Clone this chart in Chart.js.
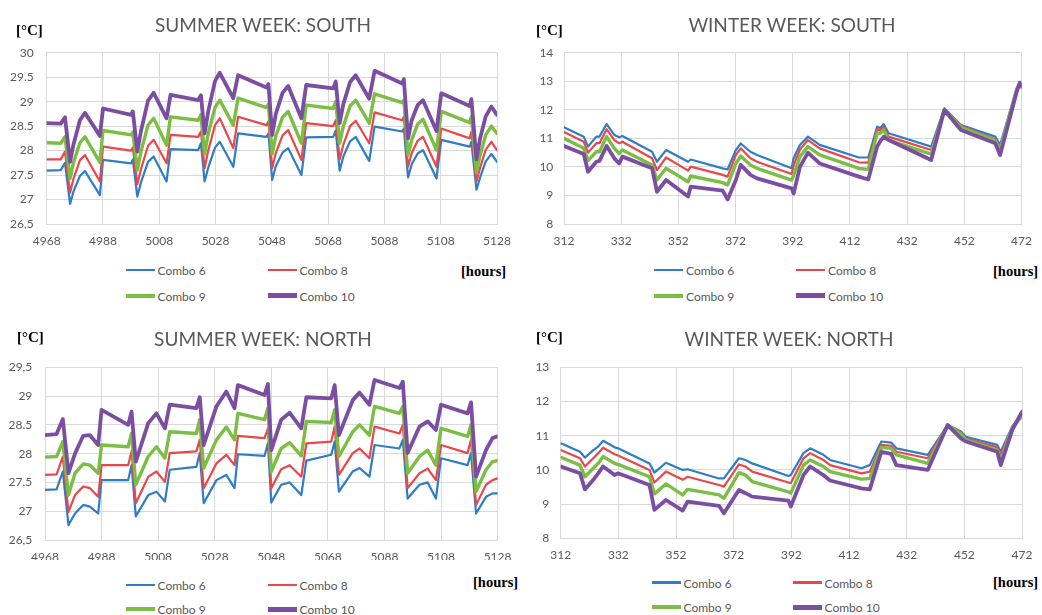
<!DOCTYPE html>
<html><head><meta charset="utf-8">
<script src="https://cdn.jsdelivr.net/npm/chart.js@4.4.1/dist/chart.umd.min.js"></script>
<style>
html,body{margin:0;padding:0;background:#fff;}
body{width:1042px;height:615px;position:relative;overflow:hidden;font-family:Lato,'Open Sans',sans-serif;}
.box{position:absolute;}
.box canvas{display:block;}
.title{position:absolute;transform:translate(-50%,-50%);font-size:19px;color:#595959;white-space:nowrap;}
.unit{position:absolute;transform:translateY(-50%);font-family:'Liberation Serif','DejaVu Serif',serif;font-weight:bold;font-size:15px;color:#000;white-space:nowrap;}
.legtxt{position:absolute;transform:translateY(-50%);font-size:12px;color:#595959;white-space:nowrap;}
.sw{position:absolute;width:29px;}
</style></head>
<body>
<div class="box" style="left:0;top:0"><canvas id="ss" width="521" height="255"></canvas></div>
<div class="box" style="left:521px;top:0"><canvas id="ws" width="521" height="255"></canvas></div>
<div class="box" style="left:0;top:310px"><canvas id="sn" width="521" height="250"></canvas></div>
<div class="box" style="left:521px;top:310px"><canvas id="wn" width="521" height="250"></canvas></div>
<div id="overlay"></div>
<script>
// ---------- DATA ----------
const seriesNames = ['Combo 6', 'Combo 8', 'Combo 9', 'Combo 10'];

// Summer week: south
const ssHours = [4968,4973,4974.5,4976.3,4977.5,4979.8,4981.6,4986.9,4988,4998,4998.6,5000.2,5001.5,5004,5006,5010.6,5012,5021.8,5022.8,5024.1,5025.4,5027.8,5029.5,5034.3,5036,5046.1,5046.8,5048.1,5049.4,5051.8,5053.8,5058.5,5060.2,5069.8,5070.7,5072.1,5073.4,5075.8,5077.8,5082.6,5084.5,5094.3,5094.9,5096.4,5097.7,5099.8,5101.7,5106.5,5108.2,5118.3,5118.9,5120.7,5122,5124,5126,5128];
const ssCombo6  = [27.59,27.60,27.75,26.91,27.16,27.48,27.58,27.09,27.81,27.74,27.82,27.06,27.35,27.77,27.88,27.37,28.03,28.01,28.15,27.37,27.65,28.06,28.18,27.67,28.35,28.28,28.35,27.40,27.68,27.96,28.05,27.50,28.27,28.28,28.41,27.59,27.88,28.19,28.28,27.79,28.49,28.39,28.45,27.45,27.72,27.94,28.01,27.43,28.22,28.08,28.18,27.20,27.45,27.78,27.93,27.77];
const ssCombo8  = [27.82,27.82,27.98,27.14,27.42,27.80,27.91,27.37,28.08,28.00,28.06,27.31,27.62,28.10,28.22,27.74,28.32,28.28,28.39,27.64,28.00,28.52,28.66,28.05,28.69,28.52,28.60,27.64,27.95,28.31,28.42,27.81,28.56,28.50,28.62,27.82,28.12,28.50,28.61,28.15,28.78,28.62,28.69,27.67,27.95,28.20,28.28,27.67,28.45,28.25,28.39,27.37,27.65,28.02,28.18,28.01];
const ssCombo9  = [28.16,28.15,28.28,27.43,27.75,28.16,28.28,27.76,28.41,28.32,28.38,27.60,27.98,28.52,28.66,28.11,28.69,28.62,28.73,27.93,28.35,28.88,29.03,28.52,29.07,28.88,28.95,27.93,28.30,28.68,28.80,28.15,28.93,28.86,29.00,28.15,28.50,28.91,29.03,28.56,29.16,28.98,29.03,27.91,28.22,28.54,28.64,28.01,28.80,28.57,28.69,27.57,27.90,28.32,28.50,28.35];
const ssCombo10 = [28.56,28.55,28.68,27.77,28.12,28.62,28.77,28.30,28.86,28.73,28.80,27.98,28.40,29.02,29.18,28.66,29.14,29.03,29.13,28.35,28.80,29.42,29.59,29.07,29.54,29.29,29.36,28.32,28.75,29.18,29.32,28.66,29.34,29.27,29.41,28.56,28.95,29.40,29.54,29.06,29.63,29.37,29.46,28.25,28.62,28.93,29.03,28.40,29.17,28.91,29.05,27.82,28.25,28.70,28.90,28.73];

// Summer week: north
const snHours = [4968,4972.1,4974.3,4976.3,4978.6,4981.5,4983.9,4986.8,4988,4997.4,4998.6,5000.1,5004.5,5007.4,5010.4,5012.1,5021.5,5022.7,5024.1,5028.6,5032.1,5035,5036.2,5045.6,5046.8,5048,5051.5,5054.5,5058.6,5060.4,5069.2,5070.4,5071.9,5076.8,5079.2,5082.7,5084.5,5093.3,5094.5,5096.2,5100.4,5103.3,5106.2,5108,5117.4,5118.6,5120.4,5123.9,5126.2,5128];
const snCombo6  = [27.37,27.38,27.69,26.76,26.96,27.11,27.08,26.96,27.54,27.54,27.80,26.91,27.28,27.34,27.17,27.72,27.77,28.01,27.14,27.54,27.63,27.40,27.99,27.96,28.18,27.15,27.46,27.50,27.28,27.88,27.98,28.21,27.34,27.69,27.75,27.60,28.15,28.09,28.24,27.22,27.46,27.50,27.22,27.92,27.80,28.01,26.96,27.25,27.31,27.31];
const snCombo8  = [27.63,27.64,27.95,26.99,27.28,27.43,27.40,27.25,27.80,27.80,28.04,27.14,27.60,27.69,27.51,28.01,28.04,28.24,27.40,27.83,27.98,27.80,28.31,28.27,28.44,27.40,27.73,27.80,27.60,28.18,28.21,28.47,27.63,28.01,28.09,27.92,28.47,28.35,28.50,27.40,27.66,27.74,27.54,28.15,28.01,28.24,27.11,27.46,27.54,27.57];
const snCombo9  = [27.94,27.95,28.21,27.28,27.66,27.82,27.80,27.66,28.15,28.12,28.35,27.46,27.95,28.12,27.92,28.38,28.35,28.59,27.75,28.24,28.46,28.24,28.70,28.59,28.79,27.69,28.09,28.19,27.96,28.56,28.54,28.76,27.95,28.38,28.50,28.32,28.82,28.70,28.82,27.66,27.95,28.06,27.80,28.44,28.30,28.50,27.34,27.72,27.86,27.88];
const snCombo10 = [28.32,28.34,28.60,27.66,28.00,28.31,28.32,28.15,28.76,28.50,28.73,27.86,28.53,28.70,28.44,28.85,28.79,28.98,28.15,28.82,29.08,28.79,29.19,29.02,29.21,28.06,28.59,28.71,28.44,28.98,28.96,29.19,28.32,28.93,29.06,28.85,29.28,29.14,29.25,28.01,28.47,28.56,28.41,28.85,28.70,28.89,27.60,28.06,28.27,28.30];

// Winter week: south
const wsHours = [312,318.9,320.4,323.3,324.4,326.9,329.6,331.3,332.4,342.8,344.5,347.7,355.4,356.3,367.5,369.2,372.1,373.8,377.2,379.5,391.6,392.3,394.5,397.3,401.4,415.1,418.4,421.5,422.6,423.8,425.5,440.4,445,450.8,462.8,464.5,470.3,471.4,472];
const wsCombo6  = [11.39,11.06,10.71,11.06,11.06,11.50,11.12,11.04,11.08,10.53,10.18,10.59,10.18,10.26,9.95,9.91,10.59,10.82,10.53,10.42,9.95,10.30,10.77,11.06,10.77,10.33,10.33,11.41,11.36,11.50,11.18,10.71,12.05,11.47,11.06,10.77,12.75,12.98,12.87];
const wsCombo8  = [11.22,10.88,10.50,10.83,10.83,11.32,10.94,10.83,10.88,10.30,9.89,10.33,9.87,10.01,9.72,9.66,10.42,10.65,10.30,10.18,9.75,10.05,10.61,10.94,10.65,10.16,10.15,11.32,11.28,11.41,11.06,10.59,12.02,11.43,10.97,10.65,12.73,12.96,12.85];
const wsCombo9  = [11.00,10.65,10.22,10.53,10.53,11.06,10.65,10.47,10.59,10.07,9.54,9.95,9.48,9.68,9.45,9.37,10.12,10.38,10.07,9.95,9.54,9.70,10.36,10.71,10.42,9.95,9.91,11.18,11.18,11.29,10.94,10.45,11.99,11.39,10.92,10.59,12.72,12.93,12.81];
const wsCombo10 = [10.73,10.45,9.83,10.18,10.21,10.73,10.30,10.12,10.36,9.95,9.13,9.54,8.96,9.31,9.17,8.86,9.54,10.07,9.72,9.60,9.25,9.07,10.00,10.50,10.12,9.66,9.56,10.71,10.90,11.06,10.94,10.24,11.99,11.29,10.83,10.42,12.63,12.95,12.81];

// Winter week: north
const wnHours = [312,318.7,320.4,323.3,325,326.7,330.7,331.9,342.8,344.5,348.5,354.3,356,366.9,368.6,373.8,376.1,378.4,391,391.8,396.2,398.5,403.1,405.4,416.3,419.2,423.2,426.6,428.4,439.3,446.2,450.8,452.5,463.4,464.6,468.6,472];
const wnCombo6  = [10.78,10.53,10.36,10.58,10.68,10.85,10.66,10.63,10.19,9.92,10.21,10.00,10.02,9.75,9.75,10.34,10.29,10.19,9.82,9.85,10.49,10.63,10.44,10.29,10.05,10.14,10.83,10.80,10.63,10.44,11.31,11.12,10.97,10.73,10.53,11.27,11.65];
const wnCombo8  = [10.58,10.34,10.10,10.34,10.49,10.65,10.46,10.42,10.00,9.63,9.95,9.71,9.80,9.56,9.51,10.16,10.10,9.95,9.63,9.62,10.34,10.49,10.29,10.14,9.90,9.95,10.73,10.70,10.53,10.34,11.31,11.09,10.92,10.66,10.44,11.25,11.61];
const wnCombo9  = [10.37,10.14,9.80,10.05,10.19,10.39,10.19,10.16,9.80,9.30,9.59,9.27,9.43,9.27,9.17,9.92,9.85,9.66,9.36,9.32,10.14,10.29,10.10,9.95,9.73,9.75,10.66,10.63,10.44,10.19,11.31,11.05,10.88,10.58,10.29,11.22,11.58];
const wnCombo10 = [10.10,9.90,9.43,9.71,9.90,10.10,9.85,9.90,9.56,8.83,9.12,8.81,9.07,8.95,8.73,9.41,9.32,9.22,9.10,8.93,9.85,10.10,9.85,9.69,9.46,9.43,10.53,10.47,10.14,10.00,11.31,10.92,10.83,10.53,10.14,11.17,11.70];

// Tick values and labels
const summerXTicks = [4968,4988,5008,5028,5048,5068,5088,5108,5128];
const winterXTicks = [312,332,352,372,392,412,432,452,472];
const ssYTicks  = [26.5,27,27.5,28,28.5,29,29.5,30];
const ssYLabels = ['26,5','27','27.5','28','28.5','29','29.5','30'];
const snYTicks  = [26.5,27,27.5,28,28.5,29,29.5];
const snYLabels = ['26,5','27','27.5','28','28.5','29','29,5'];
const wsYTicks  = [8,9,10,11,12,13,14];
const wsYLabels = ['8','9','10','11','12','13','14'];
const wnYTicks  = [8,9,10,11,12,13];
const wnYLabels = ['8','9','10','11','12','13'];
const titles = ['SUMMER WEEK: SOUTH','WINTER WEEK: SOUTH','SUMMER WEEK: NORTH','WINTER WEEK: NORTH'];

// ---------- STYLE ----------
const styles = [
  {color:'#2f7dc6', width:2.2, order:3, sw:2.5},
  {color:'#e8474b', width:2.2, order:2, sw:2.5},
  {color:'#7cbd44', width:3.4, order:1, sw:4},
  {color:'#7b4ea2', width:3.8, order:0, sw:4.5}
];

const panels = [
  {id:'ss', left:0, top:0, w:521, h:255, area:{l:46.7,t:52.7,r:497,b:224}, yPad:13, xPad:10,
   hours:ssHours, values:[ssCombo6,ssCombo8,ssCombo9,ssCombo10], xTicks:summerXTicks, yTicks:ssYTicks, yLabels:ssYLabels,
   title:titles[0], tx:263, ty:23.5, ux:16, uy:30, hx:461, hy:271,
   leg:{y1:270, y2:295.7, x1:126, t1:157.5, x2:267.7, t2:299.5}},
  {id:'ws', left:521, top:0, w:521, h:255, area:{l:43,t:52.7,r:507.3,b:224}, yPad:10.7, xPad:10,
   hours:wsHours, values:[wsCombo6,wsCombo8,wsCombo9,wsCombo10], xTicks:winterXTicks, yTicks:wsYTicks, yLabels:wsYLabels,
   title:titles[1], tx:792, ty:23.5, ux:536, uy:30, hx:993, hy:271,
   leg:{y1:270, y2:295.7, x1:654, t1:686, x2:796, t2:828}},
  {id:'sn', left:0, top:310, w:521, h:250, area:{l:45,t:57.3,r:498.3,b:230}, yPad:12.7, xPad:9.5,
   hours:snHours, values:[snCombo6,snCombo8,snCombo9,snCombo10], xTicks:summerXTicks, yTicks:snYTicks, yLabels:snYLabels,
   title:titles[2], tx:263, ty:338, ux:17, uy:337, hx:473, hy:582.3,
   leg:{y1:585, y2:609.3, x1:126, t1:157.5, x2:267.7, t2:299.5}},
  {id:'wn', left:521, top:310, w:521, h:250, area:{l:39.7,t:57.3,r:504,b:228.3}, yPad:11.4, xPad:9.5,
   hours:wnHours, values:[wnCombo6,wnCombo8,wnCombo9,wnCombo10], xTicks:winterXTicks, yTicks:wnYTicks, yLabels:wnYLabels,
   title:titles[3], tx:789, ty:338, ux:536, uy:336.7, hx:993, hy:582.3,
   leg:{y1:582.7, y2:607.3, x1:651.7, t1:683.5, x2:792.7, t2:824.5}}
];

const overlay = document.getElementById('overlay');
function addEl(cls, text, css) {
  const d = document.createElement('div');
  d.className = cls;
  if (text !== null) d.textContent = text;
  Object.assign(d.style, css);
  overlay.appendChild(d);
  return d;
}

const tickFont = {family:'Lato', size:12};
panels.forEach(p => {
  const datasets = seriesNames.map((name, i) => ({
    label: name,
    data: p.hours.map((h, k) => ({x: h, y: p.values[i][k]})),
    borderColor: styles[i].color,
    backgroundColor: styles[i].color,
    borderWidth: styles[i].width,
    pointRadius: 0,
    tension: 0,
    fill: false,
    order: styles[i].order,
    borderJoinStyle: 'round',
    borderCapStyle: 'round'
  }));
  const chart = new Chart(document.getElementById(p.id), {
    type: 'line',
    data: {datasets},
    options: {
      responsive: false,
      animation: false,
      devicePixelRatio: 1,
      layout: {padding: {left: 0, top: p.area.t, right: p.w - p.area.r, bottom: 0}},
      plugins: {legend: {display: false}, tooltip: {enabled: false}, title: {display: false}},
      scales: {
        x: {
          type: 'linear', min: p.xTicks[0], max: p.xTicks[p.xTicks.length - 1],
          afterBuildTicks: s => { s.ticks = p.xTicks.map(v => ({value: v})); },
          afterFit: s => { s.height = p.h - p.area.b; },
          grid: {color: '#d9d9d9', lineWidth: 1, drawTicks: false},
          border: {color: '#d9d9d9'},
          ticks: {padding: p.xPad, color: '#595959', font: tickFont, maxRotation: 0, autoSkip: false,
                  callback: (v, i) => String(p.xTicks[i])}
        },
        y: {
          type: 'linear', min: p.yTicks[0], max: p.yTicks[p.yTicks.length - 1],
          afterBuildTicks: s => { s.ticks = p.yTicks.map(v => ({value: v})); },
          afterFit: s => { s.width = p.area.l; },
          grid: {color: '#d9d9d9', lineWidth: 1, drawTicks: false},
          border: {color: '#d9d9d9'},
          ticks: {padding: p.yPad, color: '#595959', font: tickFont, autoSkip: false,
                  callback: (v, i) => p.yLabels[i]}
        }
      }
    }
  });

  // titles and axis unit labels
  addEl('title', p.title, {left: p.tx + 'px', top: p.ty + 'px'});
  addEl('unit', '[°C]', {left: p.ux + 'px', top: p.uy + 'px'});
  addEl('unit', '[hours]', {left: p.hx + 'px', top: p.hy + 'px', fontSize: '14.5px'});

  // legend from the chart's datasets
  const pos = [
    {x: p.leg.x1, t: p.leg.t1, y: p.leg.y1},
    {x: p.leg.x2, t: p.leg.t2, y: p.leg.y1},
    {x: p.leg.x1, t: p.leg.t1, y: p.leg.y2},
    {x: p.leg.x2, t: p.leg.t2, y: p.leg.y2}
  ];
  chart.data.datasets.forEach((d, i) => {
    const h = styles[i].sw;
    addEl('sw', null, {left: pos[i].x + 'px', top: (pos[i].y - h / 2) + 'px', height: h + 'px', background: d.borderColor});
    addEl('legtxt', d.label, {left: pos[i].t + 'px', top: pos[i].y + 'px'});
  });
});
</script>
</body></html>
